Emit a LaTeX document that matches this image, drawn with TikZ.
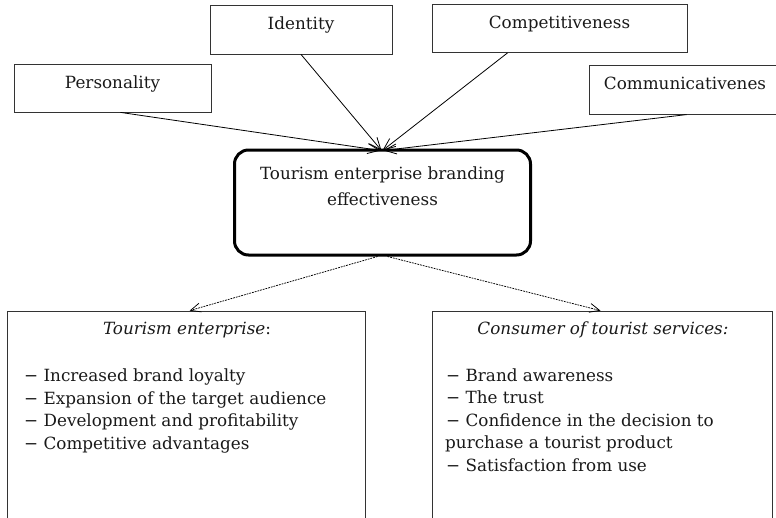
\documentclass[tikz,border=0pt]{standalone}
\usepackage{fontspec}
\setmainfont{DejaVu Serif}
\usetikzlibrary{arrows.meta}
\begin{document}
\begin{tikzpicture}[x=1pt,y=-1pt,
  box/.style={draw=black!80, line width=0.8pt, rectangle, inner sep=0pt,
    text height=8pt, text depth=8pt, font=\fontsize{16.8}{20}\selectfont, text=black!90},
  centbox/.style={draw=black, line width=3pt, rectangle, rounded corners=14pt, inner sep=0pt},
  lbl/.style={font=\fontsize{16.8}{20}\selectfont, inner sep=0pt, text=black!90},
  conn/.style={line width=0.8pt, -{Straight Barb[length=12pt,width=10pt]}},
  dconn/.style={line width=0.75pt, dash pattern=on 1.8pt off 1pt, -{Straight Barb[length=10pt,width=9pt]}}
]
\path[use as bounding box] (0,0) rectangle (776,517);
\clip (0,0) rectangle (776,517);
% top boxes
\node[box, minimum width=197pt, minimum height=48pt] (pers) at (112.5,88) {Personality};
\node[box, minimum width=182pt, minimum height=49pt] (iden) at (301,29.5) {Identity};
\node[box, minimum width=255pt, minimum height=48pt] (comp) at (559.5,28.5) {Competitiveness};
\node[box, minimum width=211pt, minimum height=49pt] (comm) at (694.5,89.7) {\hspace*{-19pt}Communicativenes};
% central box
\node[centbox, minimum width=296pt, minimum height=105pt] (c) at (382.5,202.5) {};
\node[lbl, anchor=base] (ct1) at (382.5,179.3) {Tourism enterprise branding};
\node[lbl, anchor=base] (ct2) at (382.5,205) {effectiveness};
% bottom boxes
\node[box, minimum width=358pt, minimum height=229pt] (lb) at (186.7,425.5) {};
\node[box, minimum width=340pt, minimum height=229pt] (rb) at (602.5,425.5) {};
% left texts
\node[lbl, anchor=base] (lt) at (187,334.3) {\textit{Tourism enterprise}:};
\node[lbl, anchor=base west] (l1) at (24,381.7) {− Increased brand loyalty};
\node[lbl, anchor=base west] (l2) at (24,404.3) {− Expansion of the target audience};
\node[lbl, anchor=base west] (l3) at (24,426.7) {− Development and profitability};
\node[lbl, anchor=base west] (l4) at (24,449) {− Competitive advantages};
% right texts
\node[lbl, anchor=base] (rt) at (603,334.3) {\textit{Consumer of tourist services:}};
\node[lbl, anchor=base west] (r1) at (446,381) {− Brand awareness};
\node[lbl, anchor=base west] (r2) at (446,403.3) {− The trust};
\node[lbl, anchor=base west] (r3) at (446,426.7) {− Confidence in the decision to};
\node[lbl, anchor=base west] (r4) at (445,448.3) {purchase a tourist product};
\node[lbl, anchor=base west] (r5) at (446,471.7) {− Satisfaction from use};
% connectors
\draw[conn] ([xshift=8pt]pers.south) -- ([xshift=-2pt,yshift=-2pt]c.north);
\draw[conn] (iden.south) -- ([xshift=-1pt,yshift=-2pt]c.north);
\draw[conn] ([xshift=-52pt]comp.south) -- ([xshift=0pt,yshift=-2pt]c.north);
\draw[conn] ([xshift=-8pt]comm.south) -- ([xshift=1pt,yshift=-2pt]c.north);
\draw[dconn] ([xshift=-5pt]c.south) -- ([xshift=3pt]lb.north);
\draw[dconn] ([xshift=5pt]c.south) -- ([xshift=-2pt]rb.north);
\end{tikzpicture}
\end{document}
